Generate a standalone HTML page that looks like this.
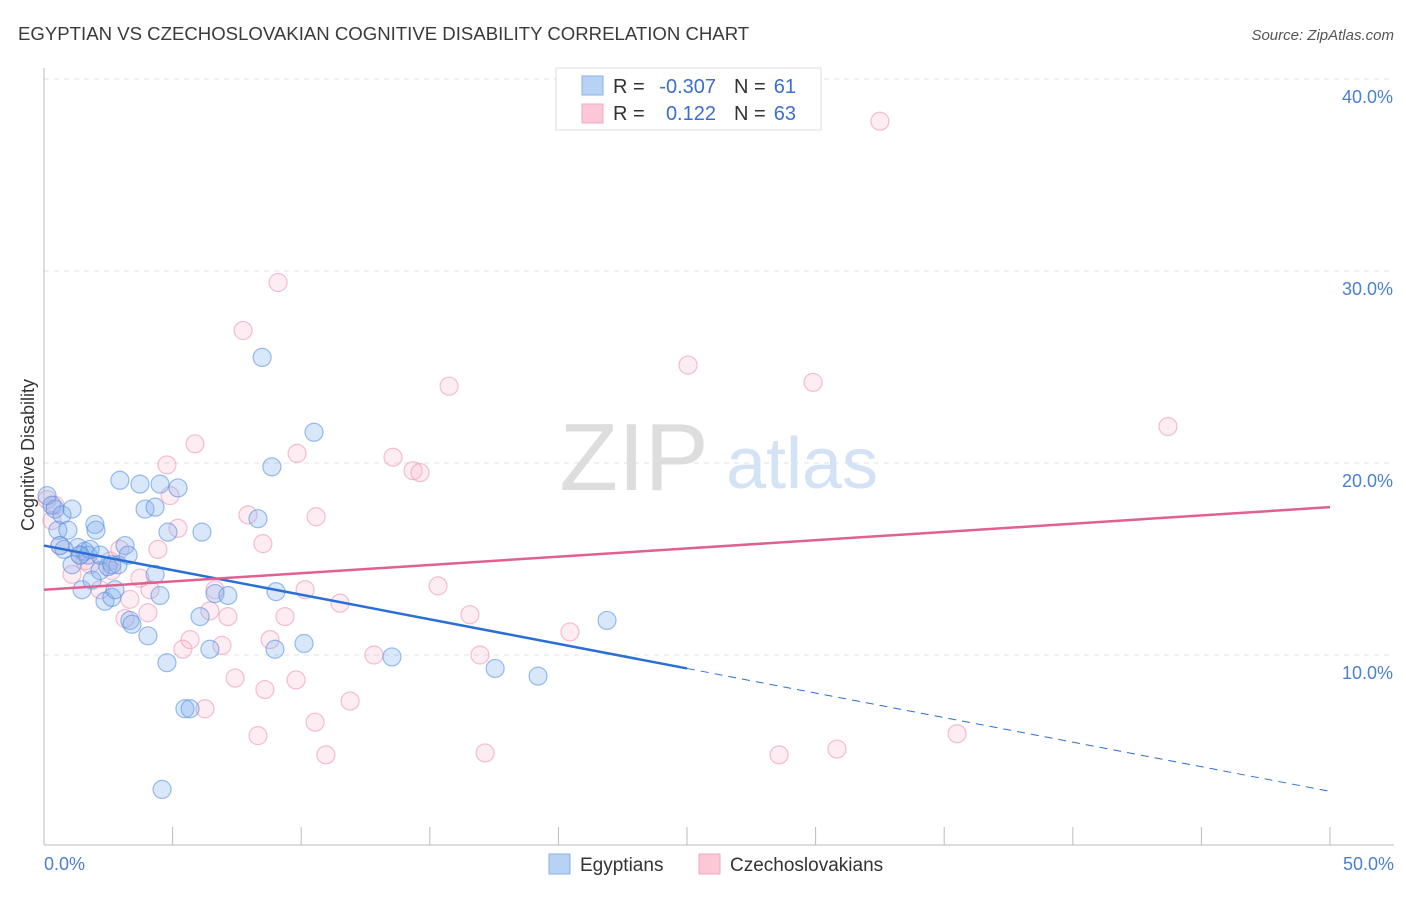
<!DOCTYPE html>
<html><head><meta charset="utf-8"><style>
body{margin:0;background:#fff;font-family:"Liberation Sans",sans-serif}
svg text{font-family:"Liberation Sans",sans-serif}
</style></head><body>
<svg id="chart" width="1406" height="892" viewBox="0 0 1406 892" xmlns="http://www.w3.org/2000/svg">
<text x="18" y="40" font-size="18.6" fill="#3a3a3a">EGYPTIAN VS CZECHOSLOVAKIAN COGNITIVE DISABILITY CORRELATION CHART</text>
<text x="1394" y="40" font-size="15" fill="#555" text-anchor="end" font-style="italic">Source: ZipAtlas.com</text>
<text transform="translate(34,455) rotate(-90)" font-size="18" fill="#333" text-anchor="middle">Cognitive Disability</text>
<g id="grid"></g>
<g><text x="634" y="490" font-size="96" fill="#ddd" font-family="Liberation Serif" text-anchor="middle">ZIP</text><text x="802" y="488" font-size="72" fill="#d3e2f4" text-anchor="middle">atlas</text></g>
<g id="marks"></g>
<g>
<rect x="556" y="68" width="265" height="62" fill="#fff" stroke="#ddd"/>
<rect x="582" y="76" width="21" height="19" fill="#b8d2f5" stroke="#8ab0e8"/>
<rect x="582" y="104" width="21" height="19" fill="#fcc8d8" stroke="#f0a8c0"/>
<text x="613" y="93" font-size="20" fill="#333">R =</text>
<text x="716" y="93" font-size="20" fill="#3a6fd0" text-anchor="end">-0.307</text>
<text x="734" y="93" font-size="20" fill="#333">N =</text>
<text x="796" y="93" font-size="20" fill="#3a6fd0" text-anchor="end">61</text>
<text x="613" y="120" font-size="20" fill="#333">R =</text>
<text x="716" y="120" font-size="20" fill="#3a6fd0" text-anchor="end">0.122</text>
<text x="734" y="120" font-size="20" fill="#333">N =</text>
<text x="796" y="120" font-size="20" fill="#3a6fd0" text-anchor="end">63</text>
</g>
<g>
<rect x="549" y="854" width="21" height="20" fill="#b8d2f5" stroke="#8ab0e8"/>
<text x="580" y="871" font-size="19" fill="#333">Egyptians</text>
<rect x="699" y="854" width="21" height="20" fill="#fcc8d8" stroke="#f0a8c0"/>
<text x="730" y="871" font-size="19" fill="#333">Czechoslovakians</text>
</g>
</svg>
<script>
const xTicks=[0,5,10,15,20,25,30,35,40,45,50];
const yTicks=[10,20,30,40];
const yTickLabels=["10.0%","20.0%","30.0%","40.0%"];
const xLabels=["0.0%","50.0%"];
const egyX=[0.12,0.31,0.43,0.54,0.70,1.09,0.93,1.32,1.09,1.59,1.71,1.98,2.02,1.48,1.87,2.37,2.64,2.18,2.49,2.88,3.15,3.27,2.76,3.34,3.42,4.04,4.32,4.51,4.51,3.73,3.93,4.32,2.95,5.21,4.82,6.14,4.78,5.48,5.68,4.59,6.07,6.45,6.65,7.15,8.32,8.86,8.48,9.02,8.98,10.11,10.50,13.53,17.54,19.21,21.89,2.18,1.79,0.62,0.78,1.40,2.64];
const egyY=[18.3,17.8,17.6,16.5,17.3,17.6,16.5,15.6,14.7,15.4,15.2,16.8,16.5,13.4,13.9,12.8,13.0,14.4,14.6,14.7,15.7,15.2,13.4,11.8,11.6,11.0,14.2,13.1,18.9,18.9,17.6,17.7,19.1,18.7,16.4,16.4,9.6,7.2,7.2,3.0,12.0,10.3,13.2,13.1,17.1,19.8,25.5,13.3,10.3,10.6,21.6,9.9,9.3,8.9,11.8,15.2,15.5,15.7,15.5,15.2,14.7];
const czX=[0.12,0.43,0.31,0.62,1.09,1.40,1.59,1.79,2.18,2.57,2.95,2.64,3.73,3.34,3.15,4.04,4.12,4.43,4.78,4.90,5.21,5.87,5.40,5.68,6.26,6.45,6.65,6.92,7.15,7.43,7.74,7.93,8.32,8.51,8.59,8.79,9.10,9.37,9.80,9.84,10.15,10.58,10.54,10.96,11.51,11.90,12.83,13.57,14.35,14.62,15.32,15.75,16.56,16.95,17.15,20.45,25.04,28.58,29.90,30.83,32.50,35.50,43.70];
const czY=[18.1,17.8,17.0,15.7,14.2,15.2,14.9,14.7,13.4,14.9,15.5,14.4,14.0,12.9,11.9,12.2,13.4,15.5,19.9,18.3,16.6,21.0,10.3,10.8,7.2,12.3,13.4,10.5,12.0,8.8,26.9,17.3,5.8,15.8,8.2,10.8,29.4,12.0,8.7,20.5,13.4,17.2,6.5,4.8,12.7,7.6,10.0,20.3,19.6,19.5,13.6,24.0,12.1,10.0,4.9,11.2,25.1,4.8,24.2,5.1,37.8,5.9,21.9];
const egyTrend=[15.7,2.9];
const czTrend=[13.4,17.7];
const egySolidEnd=25;

const X0=44,X1=1330,Yb=847,pxPer=19.2;
const sx=v=>X0+(v/50)*(X1-X0);
const sy=v=>Yb-v*pxPer;
const NS="http://www.w3.org/2000/svg";
const grid=document.getElementById('grid');
const marks=document.getElementById('marks');
function mk(tag,attrs,parent){const e=document.createElementNS(NS,tag);for(const k in attrs)e.setAttribute(k,attrs[k]);parent.appendChild(e);return e;}
yTicks.forEach((t,i)=>{
  const l=mk('line',{x1:X0,x2:1394,y1:sy(t),y2:sy(t),stroke:'#e0e0e0','stroke-dasharray':'5,5'},grid);
  
  
  const tx=mk('text',{x:1393,y:sy(t)+24,'font-size':18,fill:'#4a7fd0','text-anchor':'end'},grid);
  tx.textContent=yTickLabels[i];
  
  
});
const ax=mk('line',{x1:X0,x2:X0,y1:68,y2:845,stroke:'#bbb'},grid);


const bx=mk('line',{x1:X0,x2:1394,y1:845,y2:845,stroke:'#bbb'},grid);


xTicks.forEach(t=>{
  const l=mk('line',{x1:sx(t),x2:sx(t),y1:827,y2:845,stroke:'#bbb'},grid);
  
  
});
const xl0=mk('text',{x:44,y:870,'font-size':18,fill:'#4a7fd0'},grid);xl0.textContent=xLabels[0];


const xl1=mk('text',{x:1394,y:870,'font-size':18,fill:'#4a7fd0','text-anchor':'end'},grid);xl1.textContent=xLabels[1];



czX.forEach((v,i)=>{
  const c=mk('circle',{cx:sx(v),cy:sy(czY[i]),r:9,fill:'rgba(248,180,200,0.25)',stroke:'rgba(235,150,180,0.6)','stroke-width':1.2},marks);
  
  
});
egyX.forEach((v,i)=>{
  const c=mk('circle',{cx:sx(v),cy:sy(egyY[i]),r:9,fill:'rgba(130,175,240,0.3)',stroke:'rgba(90,145,225,0.6)','stroke-width':1.2},marks);
  
  
});
const ey=x=>egyTrend[0]+(egyTrend[1]-egyTrend[0])*x/50;
const l1=mk('line',{x1:sx(0),y1:sy(ey(0)),x2:sx(egySolidEnd),y2:sy(ey(egySolidEnd)),stroke:'#2a6fd6','stroke-width':2.5},marks);


const l2=mk('line',{x1:sx(egySolidEnd),y1:sy(ey(egySolidEnd)),x2:sx(50),y2:sy(ey(50)),stroke:'#2a6fd6','stroke-width':1,'stroke-dasharray':'8,6'},marks);


const l3=mk('line',{x1:sx(0),y1:sy(czTrend[0]),x2:sx(50),y2:sy(czTrend[1]),stroke:'#e06090','stroke-width':2.5},marks);


</script>
</body></html>
